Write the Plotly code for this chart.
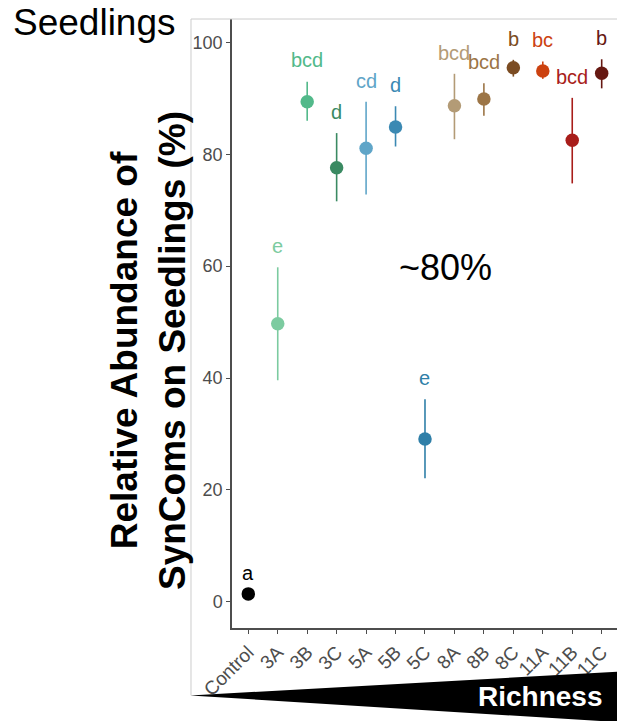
import plotly.graph_objects as go

# ---- data ----
groups = ["Control", "3A", "3B", "3C", "5A", "5B", "5C", "8A", "8B", "8C", "11A", "11B", "11C"]
means = [1.4, 49.7, 89.4, 77.6, 81.1, 84.9, 29.1, 88.7, 89.9, 95.5, 94.9, 82.5, 94.5]
upper = [1.4, 59.8, 93.0, 83.8, 89.4, 88.6, 36.2, 94.4, 92.7, 96.9, 96.6, 90.1, 97.0]
lower = [1.4, 39.6, 86.0, 71.6, 72.8, 81.4, 22.1, 82.7, 86.9, 93.9, 93.5, 74.8, 91.8]
letters = ["a", "e", "bcd", "d", "cd", "d", "e", "bcd", "bcd", "b", "bc", "bcd", "b"]
colors = ["#000000", "#7ccba0", "#52b98a", "#3a8a62", "#5fa5c8", "#3b89b3", "#2f7fa8",
          "#b39b76", "#9c7546", "#7b4c22", "#cc4210", "#a81d1a", "#661812"]
y_ticks = [0, 20, 40, 60, 80, 100]

FONT = "Liberation Sans, Arial, Helvetica, sans-serif"
GREY = "#4d4d4d"

fig = go.Figure()
for i, g in enumerate(groups):
    fig.add_trace(go.Scatter(
        x=[i], y=[means[i]], mode="markers",
        marker=dict(size=13.5, color=colors[i]),
        error_y=dict(type="data", symmetric=False,
                     array=[upper[i] - means[i]], arrayminus=[means[i] - lower[i]],
                     color=colors[i], thickness=1.6, width=0,
                     visible=(upper[i] - lower[i]) > 0.5),
        showlegend=False, hoverinfo="skip"))
    fig.add_annotation(x=i, y=upper[i] + 3.8, xref="x", yref="y", text=letters[i],
                       showarrow=False, font=dict(family=FONT, size=20, color=colors[i]),
                       xanchor="center", yanchor="middle")

# annotations
fig.add_annotation(x=6.68, y=59.7, xref="x", yref="y", text="~80%", showarrow=False,
                   font=dict(family=FONT, size=36, color="black"))
fig.add_annotation(x=-0.573, y=0.995, xref="paper", yref="paper", text="Seedlings",
                   showarrow=False, xanchor="left", yanchor="middle",
                   font=dict(family=FONT, size=37, color="black"))
fig.add_annotation(x=-0.2156, y=0.4565, xref="paper", yref="paper",
                   text="<b>Relative Abundance of</b><br><b>SynComs on Seedlings (%)</b>",
                   textangle=-90, showarrow=False, xanchor="center", yanchor="middle",
                   font=dict(family=FONT, size=37, color="black"))

# grey frame lines
fig.add_shape(type="line", xref="paper", yref="paper", x0=-0.1065, x1=-0.1065, y0=1.0, y1=-0.110,
              line=dict(color="#cccccc", width=1))
fig.add_shape(type="line", xref="paper", yref="paper", x0=-0.1065, x1=1.0, y0=1.0, y1=1.0,
              line=dict(color="#cccccc", width=1))
# richness wedge
fig.add_shape(type="path", xref="paper", yref="paper",
              path="M -0.1091 -0.1108 L 1.0 -0.0718 L 1.0 -0.1544 Z",
              fillcolor="black", line=dict(color="black", width=0))
fig.add_annotation(x=0.8, y=-0.1133, xref="paper", yref="paper", text="<b>Richness</b>",
                   showarrow=False, xanchor="center", yanchor="middle",
                   font=dict(family=FONT, size=28, color="white"))

fig.update_layout(
    width=617, height=721,
    margin=dict(l=232, r=0, t=19, b=93),
    paper_bgcolor="white", plot_bgcolor="white",
    font=dict(family=FONT),
    xaxis=dict(range=[-0.553, 12.52], tickmode="array", tickvals=list(range(len(groups))),
               ticktext=groups, tickangle=-45, showline=True, linecolor=GREY, linewidth=1.5,
               ticks="outside", ticklen=4, tickcolor=GREY, tickwidth=1,
               tickfont=dict(family=FONT, size=19, color=GREY),
               showgrid=False, zeroline=False, fixedrange=True),
    yaxis=dict(range=[-4.7, 104.2], tickvals=y_ticks, showline=True, linecolor=GREY, linewidth=1.5,
               ticks="outside", ticklen=4, tickcolor=GREY, tickwidth=1,
               tickfont=dict(family=FONT, size=18, color=GREY),
               showgrid=False, zeroline=False, fixedrange=True),
)

fig.write_html("out.html")
